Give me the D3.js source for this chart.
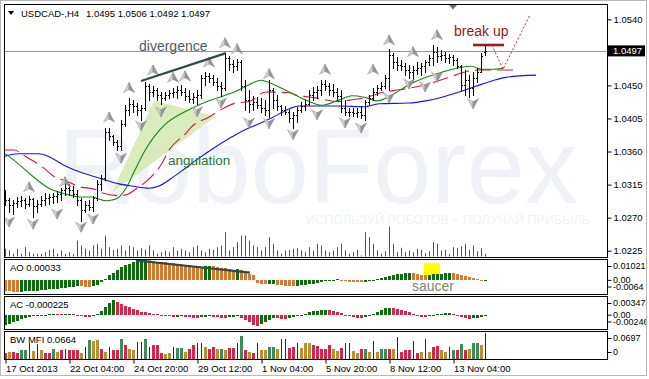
<!DOCTYPE html>
<html><head><meta charset="utf-8">
<script src="https://cdn.jsdelivr.net/npm/d3@7"></script>
<style>
html,body{margin:0;padding:0;background:#fff;overflow:hidden;}
svg{display:block;font-family:"Liberation Sans",Arial,sans-serif;}
</style></head>
<body><svg id="c" width="649" height="379"></svg>
<script>
// ---------------- DATA ----------------
const symbolLabel = "USDCAD-,H4";
const lastQuote = ["1.0495","1.0506","1.0492","1.0497"];
const currentPrice = 1.0497;

const openP = [1.0301,1.0294,1.0287,1.0290,1.0293,1.0294,1.0289,1.0295,1.0286,1.0289,
1.0294,1.0297,1.0298,1.0300,1.0302,1.0308,1.0310,1.0308,1.0302,1.0294,
1.0280,1.0287,1.0285,1.0297,1.0316,1.0324,1.0387,1.0381,1.0373,1.0368,
1.0398,1.0417,1.0425,1.0422,1.0417,1.0419,1.0449,1.0441,1.0444,1.0437,
1.0433,1.0437,1.0440,1.0441,1.0444,1.0441,1.0436,1.0432,1.0434,1.0437,
1.0460,1.0463,1.0460,1.0455,1.0449,1.0447,1.0487,1.0479,1.0476,1.0482,
1.0449,1.0430,1.0425,1.0428,1.0423,1.0419,1.0417,1.0444,1.0430,1.0422,
1.0417,1.0414,1.0406,1.0410,1.0417,1.0422,1.0425,1.0437,1.0441,1.0444,
1.0452,1.0449,1.0444,1.0441,1.0436,1.0419,1.0414,1.0414,1.0413,1.0414,
1.0410,1.0428,1.0433,1.0441,1.0447,1.0449,1.0460,1.0491,1.0482,1.0478,
1.0476,1.0471,1.0468,1.0471,1.0474,1.0476,1.0482,1.0487,1.0495,1.0490,
1.0491,1.0487,1.0489,1.0485,1.0476,1.0451,1.0457,1.0447,1.0460,1.0468,
1.0495];
const highP = [1.0308,1.0297,1.0294,1.0298,1.0300,1.0297,1.0300,1.0297,1.0294,1.0300,
1.0304,1.0302,1.0304,1.0306,1.0310,1.0317,1.0316,1.0313,1.0308,1.0297,
1.0293,1.0294,1.0300,1.0321,1.0328,1.0392,1.0392,1.0383,1.0376,1.0403,
1.0423,1.0433,1.0430,1.0426,1.0423,1.0455,1.0452,1.0449,1.0447,1.0441,
1.0441,1.0444,1.0447,1.0449,1.0451,1.0447,1.0444,1.0440,1.0444,1.0464,
1.0468,1.0467,1.0464,1.0460,1.0455,1.0494,1.0490,1.0485,1.0486,1.0485,
1.0457,1.0444,1.0436,1.0434,1.0433,1.0430,1.0457,1.0447,1.0437,1.0423,
1.0422,1.0417,1.0414,1.0421,1.0428,1.0430,1.0444,1.0448,1.0449,1.0457,
1.0457,1.0453,1.0452,1.0447,1.0444,1.0430,1.0419,1.0419,1.0419,1.0422,
1.0430,1.0437,1.0447,1.0451,1.0455,1.0464,1.0500,1.0494,1.0489,1.0485,
1.0481,1.0478,1.0476,1.0482,1.0481,1.0485,1.0491,1.0505,1.0502,1.0498,
1.0495,1.0493,1.0491,1.0487,1.0478,1.0471,1.0464,1.0468,1.0474,1.0494,
1.0506];
const lowP = [1.0287,1.0278,1.0275,1.0285,1.0286,1.0283,1.0286,1.0271,1.0278,1.0286,
1.0287,1.0289,1.0290,1.0291,1.0294,1.0301,1.0301,1.0298,1.0287,1.0266,
1.0278,1.0280,1.0279,1.0294,1.0308,1.0321,1.0376,1.0369,1.0362,1.0362,
1.0395,1.0410,1.0414,1.0410,1.0403,1.0417,1.0430,1.0436,1.0430,1.0425,
1.0430,1.0433,1.0434,1.0433,1.0437,1.0430,1.0428,1.0426,1.0425,1.0433,
1.0451,1.0455,1.0451,1.0444,1.0436,1.0444,1.0471,1.0468,1.0471,1.0444,
1.0417,1.0414,1.0417,1.0419,1.0414,1.0410,1.0407,1.0419,1.0417,1.0410,
1.0411,1.0400,1.0392,1.0400,1.0414,1.0417,1.0423,1.0430,1.0433,1.0437,
1.0444,1.0437,1.0436,1.0430,1.0414,1.0410,1.0408,1.0408,1.0407,1.0406,
1.0403,1.0425,1.0430,1.0437,1.0444,1.0447,1.0444,1.0474,1.0471,1.0471,
1.0464,1.0460,1.0457,1.0466,1.0464,1.0468,1.0478,1.0478,1.0482,1.0485,
1.0482,1.0481,1.0478,1.0474,1.0444,1.0437,1.0434,1.0437,1.0455,1.0468,
1.0492];
const closeP = [1.0294,1.0287,1.0290,1.0293,1.0294,1.0289,1.0295,1.0286,1.0289,1.0294,
1.0297,1.0298,1.0300,1.0302,1.0308,1.0310,1.0308,1.0302,1.0294,1.0280,
1.0287,1.0285,1.0297,1.0316,1.0324,1.0387,1.0381,1.0373,1.0368,1.0398,
1.0417,1.0425,1.0422,1.0417,1.0419,1.0449,1.0441,1.0444,1.0437,1.0433,
1.0437,1.0440,1.0441,1.0444,1.0441,1.0436,1.0432,1.0434,1.0437,1.0460,
1.0463,1.0460,1.0455,1.0449,1.0447,1.0487,1.0479,1.0476,1.0482,1.0449,
1.0430,1.0425,1.0428,1.0423,1.0419,1.0417,1.0444,1.0430,1.0422,1.0417,
1.0414,1.0406,1.0410,1.0417,1.0422,1.0425,1.0437,1.0441,1.0444,1.0452,
1.0449,1.0444,1.0441,1.0436,1.0419,1.0414,1.0414,1.0413,1.0414,1.0410,
1.0428,1.0433,1.0441,1.0447,1.0449,1.0460,1.0491,1.0482,1.0478,1.0476,
1.0471,1.0468,1.0471,1.0474,1.0476,1.0482,1.0487,1.0495,1.0490,1.0491,
1.0487,1.0489,1.0485,1.0476,1.0451,1.0457,1.0447,1.0460,1.0468,1.0490,
1.0497];
const tickVolume = [770,600,270,770,270,930,430,270,270,270,
430,670,770,270,600,270,430,270,1600,1100,
770,600,1100,1270,770,2100,930,670,770,1100,
600,1100,930,600,830,670,1100,600,270,430,
600,430,930,600,770,600,430,930,1100,600,
430,770,670,930,1100,2430,600,930,1430,2100,
2100,1600,1100,930,600,930,1930,1270,600,270,
600,670,770,830,600,430,930,600,1270,1100,
600,430,600,930,1270,600,270,430,670,100,
2430,1930,1270,600,270,530,3000,1270,430,870,
430,600,430,770,670,330,530,1430,1270,600,
670,270,930,870,1000,1270,670,1100,530,830,
270];
const aoValues = [-0.00504,-0.00528,-0.00547,-0.00557,-0.00552,-0.00538,-0.00523,-0.00509,-0.00494,-0.00480,
-0.00461,-0.00442,-0.00422,-0.00398,-0.00374,-0.00350,-0.00326,-0.00302,-0.00288,-0.00298,
-0.00312,-0.00317,-0.00278,-0.00216,-0.00096,0.00072,0.00240,0.00384,0.00528,0.00648,
0.00744,0.00816,0.00888,0.00936,0.00984,0.01008,0.00984,0.00950,0.00922,0.00902,
0.00878,0.00854,0.00830,0.00811,0.00787,0.00768,0.00744,0.00720,0.00696,0.00672,
0.00686,0.00701,0.00682,0.00653,0.00624,0.00595,0.00566,0.00528,0.00542,0.00499,
0.00432,0.00336,0.00240,-0.00120,-0.00168,-0.00192,-0.00182,-0.00173,-0.00202,-0.00230,
-0.00250,-0.00264,-0.00278,-0.00264,-0.00240,-0.00216,-0.00192,-0.00158,-0.00125,-0.00086,
-0.00048,0.00024,0.00038,0.00048,0.00029,-0.00024,-0.00058,-0.00077,-0.00086,-0.00096,
-0.00072,-0.00024,0.00024,0.00072,0.00120,0.00168,0.00216,0.00264,0.00298,0.00326,
0.00346,0.00365,0.00346,0.00317,0.00288,0.00269,0.00278,0.00298,0.00317,0.00336,
0.00350,0.00365,0.00346,0.00312,0.00264,0.00216,0.00168,0.00120,0.00072,0.00029,
0.00033];
const acValues = [-0.00183,-0.00155,-0.00128,-0.00100,-0.00073,-0.00051,-0.00033,-0.00018,-0.00009,0.00004,
0.00009,0.00016,0.00022,0.00018,0.00015,0.00018,0.00022,0.00015,0.00005,-0.00009,
-0.00027,-0.00037,-0.00018,0.00018,0.00073,0.00146,0.00228,0.00283,0.00247,0.00210,
0.00174,0.00146,0.00119,0.00091,0.00064,0.00051,0.00037,0.00027,0.00015,0.00005,
-0.00009,-0.00022,-0.00033,-0.00027,-0.00018,-0.00027,-0.00037,-0.00046,-0.00051,-0.00037,
-0.00027,-0.00018,-0.00027,-0.00037,-0.00046,-0.00051,-0.00040,-0.00033,-0.00022,-0.00046,
-0.00082,-0.00128,-0.00174,-0.00201,-0.00164,-0.00119,-0.00082,-0.00055,-0.00058,-0.00062,
-0.00064,-0.00055,-0.00037,-0.00018,0.00005,0.00027,0.00051,0.00073,0.00088,0.00095,
0.00100,0.00091,0.00077,0.00058,0.00037,0.00009,-0.00018,-0.00037,-0.00051,-0.00058,
-0.00037,-0.00009,0.00027,0.00064,0.00100,0.00128,0.00137,0.00128,0.00110,0.00091,
0.00073,0.00051,0.00022,-0.00009,-0.00027,-0.00037,-0.00018,0.00005,0.00018,0.00027,
0.00033,0.00037,0.00018,-0.00009,-0.00033,-0.00055,-0.00073,-0.00058,-0.00046,-0.00033,
-0.000225];
const bwValues = [0.0149,0.0174,0.0167,0.0149,0.0224,0.0237,0.0398,0.0199,0.0391,0.0224,
0.0149,0.0142,0.0242,0.0182,0.0224,0.0242,0.0224,0.0224,0.0224,0.0142,
0.0306,0.0473,0.0456,0.0473,0.0266,0.0182,0.0306,0.0224,0.0224,0.0515,
0.0349,0.0242,0.0224,0.0431,0.0423,0.0515,0.0306,0.0366,0.0366,0.0142,
0.0117,0.0142,0.0306,0.0281,0.0281,0.0182,0.0266,0.0349,0.0416,0.0416,
0.0306,0.0266,0.0306,0.0266,0.0266,0.0224,0.0281,0.0281,0.0416,0.0573,
0.0224,0.0182,0.0157,0.0416,0.0224,0.0224,0.0306,0.0306,0.0266,0.0515,
0.0515,0.0281,0.0306,0.0406,0.0281,0.0406,0.0406,0.0349,0.0331,0.0242,
0.0242,0.0349,0.0266,0.0199,0.0281,0.0416,0.0416,0.0199,0.0142,0.0266,
0.0266,0.0182,0.0448,0.0182,0.0266,0.0266,0.0242,0.0266,0.0555,0.0182,
0.0224,0.0224,0.0448,0.0157,0.0182,0.0515,0.0182,0.0306,0.0331,0.0224,
0.0182,0.0306,0.0224,0.0224,0.0391,0.0224,0.0266,0.0416,0.0416,0.0349,
0.0664];
// g = green, b = brown (fade), f = blue (fake), s = pink (squat)
const bwStates = ("sbssggfbfb"+"ssgbsfsssb"+"fgbbsbfssg"+"sbbffgfsss"+"bbfggbssff"+
  "bssbgbssfg"+"sbsfbbggbf"+"fssfbbbsss"+"ssbbsffbbs"+"gbfbggsbfs"+"ssfsbfbssb"+"bfgsgsbggb"+"f").split("");

// Alligator lines: [bar index, price]
const jawLine = [[-0.5,1.0353],[3.5,1.0357],[8.5,1.0357],[11,1.0353],[15.25,1.0340],[19.25,1.0331],[23.5,1.0324],[28.5,1.0316],[31.75,1.0313],[36,1.0310],[38.5,1.0313],[41.75,1.0324],[45.25,1.0338],[48.5,1.0351],[51.75,1.0363],[56.75,1.0380],[59.75,1.0389],[62.75,1.0396],[66.75,1.0406],[71,1.0418],[73.5,1.0422],[79.25,1.0422],[83.5,1.0422],[89.75,1.0421],[93.5,1.0425],[101,1.0426],[105.25,1.0429],[109.25,1.0434],[113.5,1.0441],[117.75,1.0449],[122.25,1.0457],[125.25,1.0461],[132.75,1.0464]];
const teethLine = [[-0.5,1.0362],[2.25,1.0362],[5.25,1.0353],[10.25,1.0335],[11.75,1.0328],[16.5,1.0317],[18,1.0313],[22.75,1.0308],[23.5,1.0305],[28.5,1.0300],[30.25,1.0301],[33.5,1.0312],[35.25,1.0319],[39.25,1.0344],[41,1.0362],[45.25,1.0385],[46.5,1.0393],[51,1.0407],[52.75,1.0413],[57.75,1.0426],[61,1.0428],[65.25,1.0441],[71,1.0440],[72.75,1.0437],[77.75,1.0433],[83.5,1.0428],[86,1.0430],[89.75,1.0433],[94.75,1.0441],[98.5,1.0444],[105.25,1.0451],[110.5,1.0460],[114.75,1.0468],[118.5,1.0471],[123.5,1.0471],[127.75,1.0471]];
const lipsLine = [[-0.5,1.0359],[2.75,1.0346],[6.75,1.0327],[11,1.0310],[15.25,1.0302],[19.25,1.0298],[21.75,1.0298],[25.25,1.0293],[26.75,1.0294],[28.5,1.0298],[30.25,1.0310],[32.25,1.0332],[34.75,1.0359],[37.25,1.0380],[40.25,1.0398],[43.5,1.0410],[46.75,1.0419],[51,1.0429],[54.75,1.0436],[57.75,1.0442],[61,1.0451],[64,1.0457],[67.25,1.0451],[71,1.0441],[75.25,1.0430],[79.25,1.0423],[83.5,1.0430],[86.75,1.0436],[89.75,1.0434],[93,1.0429],[96.75,1.0437],[101,1.0451],[105.25,1.0461],[109.25,1.0468],[113.5,1.0474],[116.5,1.0476],[119.25,1.0472],[122.25,1.0472],[124.75,1.0474]];

const fractalsUp = [[6,1.0312],[15,1.0319],[26,1.0407],[31,1.0447],[37,1.0471],[42,1.0461],[45,1.0463],[51,1.0482],[55,1.0508],[58,1.0500],[66,1.0466],[80,1.0472],[92,1.0472],[96,1.0512],[102,1.0496],[108,1.0519]];
const fractalsDown = [[1,1.0264],[7,1.0261],[13,1.0275],[19,1.0257],[22,1.0268],[29,1.0351],[34,1.0395],[39,1.0414],[48,1.0414],[54,1.0426],[61,1.0399],[66,1.0398],[72,1.0383],[78,1.0410],[85,1.0399],[89,1.0392],[96,1.0433],[101,1.0452],[105,1.0448],[108,1.0461],[117,1.0425]];

const priceTicks = [1.0540,1.0450,1.0405,1.0360,1.0315,1.0270,1.0225];
const dateTicks = [[0,"17 Oct 2013"],[16,"22 Oct 04:00"],[32,"24 Oct 20:00"],[48,"29 Oct 12:00"],[64,"1 Nov 04:00"],[80,"5 Nov 20:00"],[96,"8 Nov 12:00"],[112,"13 Nov 04:00"]];
const aoRange = [-0.0064, 0.01021], acRange = [-0.00246, 0.003478], bwRange = [0, 0.0697];
const aoTickLabels = ["0.01021","0.00","-0.0064"];
const acTickLabels = ["0.003478","0.00","-0.00246"];
const bwTickLabels = ["0.0697","0"];

// annotations (bar index / value anchors)
const divergencePrice = [[34,1.0456],[55.25,1.0494]];
const divergenceAO = [[32.75,0.00972],[61.25,0.00378]];
const angulationTri = [[26.75,1.0304],[37.25,1.0429],[52.75,1.0408]];
const breakUpLine = [[117,1.0505],[124.75,1.0505]];
const forecastPath = [[121.75,1.0505],[124.5,1.0472],[131.25,1.0546]];
const saucerBox = [[104.75,0.00843],[108.75,0.00172]];

// ---------------- DRAW ----------------
const svg = d3.select("#c");
const FONT = "Liberation Sans, Arial, sans-serif";
const LX = 4, RX = 607;
const P = {main:[4,257], ao:[259,294], ac:[296,329], bw:[331,359]};

const x = d3.scaleLinear().domain([0,120]).range([5,485]);
const yP = d3.scaleLinear().domain([1.0225,1.0540]).range([250.7,19.3]);
const yV = d3.scaleLinear().domain([0,3000]).range([256.5,226.5]);
const yAO = d3.scaleLinear().domain(aoRange).range([293.5,259.5]);
const yAC = d3.scaleLinear().domain(acRange).range([328.5,296.5]);
const yBW = d3.scaleLinear().domain(bwRange).range([359,331.5]);

svg.append("rect").attr("x",0).attr("y",0).attr("width",649).attr("height",379).attr("fill","#fff");

const defs = svg.append("defs");
Object.entries(P).forEach(([k,[t,b]])=>{
  defs.append("clipPath").attr("id","clip-"+k).append("rect")
    .attr("x",LX+1).attr("y",t+1).attr("width",RX-LX-1).attr("height",b-t-1);
});
defs.append("clipPath").attr("id","clip-right").append("rect")
  .attr("x",RX).attr("y",0).attr("width",647-RX).attr("height",375);

// ---- main panel ----
const gm = svg.append("g").attr("clip-path","url(#clip-main)");
gm.append("text").attr("x",58).attr("y",203).attr("font-size",105).attr("font-family",FONT)
  .attr("fill","#eff2f6").text("RoboForex");
gm.append("text").attr("x",306).attr("y",224).attr("font-size",13).attr("font-family",FONT)
  .attr("fill","#f0f3f7").attr("textLength",284).attr("lengthAdjust","spacingAndGlyphs")
  .text("ИСПОЛЬЗУЙ РОБОТОВ – ПОЛУЧАЙ ПРИБЫЛЬ");

gm.append("path").attr("d", d3.line().x(d=>x(d[0])).y(d=>yP(d[1]))(angulationTri)+"Z")
  .attr("fill","#d3e9b0").attr("opacity",0.85);

gm.append("g").selectAll("line").data(tickVolume).join("line")
  .attr("x1",(d,i)=>x(i)+0.5).attr("x2",(d,i)=>x(i)+0.5)
  .attr("y1",yV(0)).attr("y2",d=>yV(d)).attr("stroke","#1f7a1f");

gm.append("line").attr("x1",LX).attr("x2",RX).attr("y1",Math.round(yP(currentPrice))+0.5).attr("y2",Math.round(yP(currentPrice))+0.5)
  .attr("stroke","#8797a8");

const lineGen = d3.line().x(d=>x(d[0])).y(d=>yP(d[1])).curve(d3.curveMonotoneX);
gm.append("path").attr("d",lineGen(jawLine)).attr("fill","none").attr("stroke","#1515e0").attr("stroke-width",1.1);
gm.append("path").attr("d",lineGen(teethLine)).attr("fill","none").attr("stroke","#d01840").attr("stroke-width",1.1).attr("stroke-dasharray","16,6");
gm.append("path").attr("d",lineGen(lipsLine)).attr("fill","none").attr("stroke","#138a13").attr("stroke-width",1.1);

const bars = gm.append("g").attr("stroke","#000").attr("shape-rendering","crispEdges");
openP.forEach((o,i)=>{
  const cx = x(i)+0.5;
  bars.append("line").attr("x1",cx).attr("x2",cx).attr("y1",yP(highP[i])).attr("y2",yP(lowP[i])+1);
  const yo = Math.round(yP(o))+0.5, yc = Math.round(yP(closeP[i]))+0.5;
  bars.append("line").attr("x1",cx-1.5).attr("x2",cx).attr("y1",yo).attr("y2",yo);
  bars.append("line").attr("x1",cx).attr("x2",cx+1.5).attr("y1",yc).attr("y2",yc);
});

function arrow(g, cx, cy, up){
  const s = up?1:-1;
  g.append("path").attr("d",`M${cx},${cy-5*s} L${cx-5.5},${cy+5*s} L${cx},${cy+2*s} Z`)
    .attr("fill","#d2d2d2").attr("stroke","#a0a0a0").attr("stroke-width",0.6);
  g.append("path").attr("d",`M${cx},${cy-5*s} L${cx+5.5},${cy+5*s} L${cx},${cy+2*s} Z`)
    .attr("fill","#959595").attr("stroke","#8e8e8e").attr("stroke-width",0.6);
}
const gf = gm.append("g");
fractalsUp.forEach(d=>arrow(gf, x(d[0]), yP(d[1]), true));
fractalsDown.forEach(d=>arrow(gf, x(d[0]), yP(d[1]), false));

gm.append("path").attr("d",d3.line().x(d=>x(d[0])).y(d=>yP(d[1]))(divergencePrice))
  .attr("stroke","#2e4a4a").attr("stroke-width",2.2).attr("fill","none");
gm.append("path").attr("d",d3.line().x(d=>x(d[0])).y(d=>yP(d[1]))(breakUpLine))
  .attr("stroke","#9b1c1c").attr("stroke-width",2.6).attr("fill","none");
gm.append("path").attr("d",d3.line().x(d=>x(d[0])).y(d=>yP(d[1]))(forecastPath))
  .attr("stroke","#b03030").attr("stroke-width",1).attr("stroke-dasharray","2,2").attr("fill","none");

gm.append("text").attr("x",x(33.5)).attr("y",yP(1.0503)).attr("dy","0.35em").attr("font-size",14).attr("font-family",FONT)
  .attr("fill","#4f5c68").text("divergence");
gm.append("text").attr("x",x(40.75)).attr("y",yP(1.0348)).attr("dy","0.35em").attr("font-size",13.5).attr("font-family",FONT)
  .attr("fill","#267a32").text("angulation");
gm.append("text").attr("x",x(112.25)).attr("y",yP(1.0524)).attr("dy","0.35em").attr("font-size",14).attr("font-family",FONT)
  .attr("fill","#8b1c1c").text("break up");

// chart shift marker
svg.append("path").attr("d",`M${x(112)-4},5 L${x(112)+4},5 L${x(112)},9.5 Z`).attr("fill","#6e6e6e");

// title
svg.append("path").attr("d","M8,11 L14,11 L11,15 Z").attr("fill","#000");
svg.append("text").attr("x",21).attr("y",16.5).attr("font-size",9.5).attr("font-family",FONT).text(symbolLabel);
svg.append("text").attr("x",86).attr("y",16.5).attr("font-size",9.5).attr("font-family",FONT).text(lastQuote.join(" "));

// ---- AO ----
const gao = svg.append("g").attr("clip-path","url(#clip-ao)");
gao.append("rect").attr("x",x(saucerBox[0][0])).attr("y",yAO(saucerBox[0][1]))
  .attr("width",x(saucerBox[1][0])-x(saucerBox[0][0])).attr("height",yAO(saucerBox[1][1])-yAO(saucerBox[0][1]))
  .attr("fill","#ffff00");
gao.append("g").attr("shape-rendering","crispEdges").selectAll("rect").data(aoValues).join("rect")
  .attr("x",(d,i)=>x(i)-1).attr("width",3)
  .attr("y",d=>Math.min(yAO(d),yAO(0))).attr("height",d=>Math.max(1,Math.abs(yAO(d)-yAO(0))))
  .attr("fill",(d,i)=> (i===0 ? false : d>aoValues[i-1]) ? "#0e6b0e" : "#d57a2e");
gao.append("path").attr("d",d3.line().x(d=>x(d[0])).y(d=>yAO(d[1]))(divergenceAO))
  .attr("stroke","#2e4a4a").attr("stroke-width",2.2).attr("fill","none");
gao.append("text").attr("x",x(101.75)).attr("y",yAO(-0.00292)).attr("dy","0.35em").attr("font-size",14).attr("font-family",FONT)
  .attr("fill","#7f8272").text("saucer");
svg.append("text").attr("x",10).attr("y",268).attr("dy","0.35em").attr("font-size",9.5).attr("font-family",FONT).text("AO "+aoValues[aoValues.length-1].toFixed(5));

// ---- AC ----
const gac = svg.append("g").attr("clip-path","url(#clip-ac)");
gac.append("g").attr("shape-rendering","crispEdges").selectAll("rect").data(acValues).join("rect")
  .attr("x",(d,i)=>x(i)-1).attr("width",3)
  .attr("y",d=>Math.min(yAC(d),yAC(0))).attr("height",d=>Math.max(1,Math.abs(yAC(d)-yAC(0))))
  .attr("fill",(d,i)=> (i===0 ? true : d>acValues[i-1]) ? "#0e6b0e" : "#d8234a");
svg.append("text").attr("x",10).attr("y",305).attr("dy","0.35em").attr("font-size",9.5).attr("font-family",FONT).text("AC "+acValues[acValues.length-1].toFixed(6));

// ---- BW MFI ----
const bwColor = {g:"#3c8c5c", b:"#b8902c", f:"#1c1c96", s:"#d8234a"};
const gbw = svg.append("g").attr("clip-path","url(#clip-bw)").attr("shape-rendering","crispEdges");
bwValues.forEach((v,i)=>{
  const st = bwStates[i];
  const w = st==="f" ? 1 : 3;
  gbw.append("rect").attr("x", st==="f" ? x(i) : x(i)-1).attr("width",w)
    .attr("y",yBW(v)).attr("height",yBW(0)-yBW(v)).attr("fill",bwColor[st]);
});
svg.append("text").attr("x",10).attr("y",340).attr("dy","0.35em").attr("font-size",9.5).attr("font-family",FONT).text("BW MFI "+bwValues[bwValues.length-1].toFixed(4));

// ---- panel frames ----
Object.values(P).forEach(([t,b])=>{
  svg.append("rect").attr("x",LX+0.5).attr("y",t+0.5).attr("width",RX-LX).attr("height",b-t)
    .attr("fill","none").attr("stroke","#000").attr("shape-rendering","crispEdges");
});

// ---- axes ----
function styleAxis(g, fs){
  g.select(".domain").remove();
  g.selectAll("line").attr("stroke","#000");
  g.selectAll("text").attr("font-size",fs||9.5).attr("font-family",FONT).attr("fill","#000");
}
const gRight = svg.append("g").attr("clip-path","url(#clip-right)");
const priceAxis = d3.axisRight(yP).tickValues(priceTicks).tickSize(4).tickPadding(2).tickFormat(d3.format(".4f"));
gRight.append("g").attr("transform",`translate(${RX+0.5},0)`).call(priceAxis).call(styleAxis);

// current price box
const cy = yP(currentPrice);
gRight.append("rect").attr("x",RX+1).attr("y",cy-5.5).attr("width",37).attr("height",11).attr("fill","#000");
gRight.append("text").attr("x",RX+6).attr("y",cy).attr("dy","0.35em").attr("font-size",9.5).attr("font-family",FONT)
  .attr("fill","#fff").text(currentPrice.toFixed(4));

function subAxis(scale, range, labels){
  const vals = labels.length===3 ? [range[1],0,range[0]] : [range[1],range[0]];
  const ax = d3.axisRight(scale).tickValues(vals).tickSize(4).tickPadding(1.5).tickFormat((d,i)=>labels[i]);
  const g = gRight.append("g").attr("transform",`translate(${RX+0.5},0)`).call(ax).call(g=>styleAxis(g,9));
  g.selectAll(".tick").attr("transform",(d,i)=>{
    let yy = scale(d);
    if(i===0) yy += 7;
    if(i===vals.length-1) yy -= 6.5;
    return `translate(0,${yy})`;
  });
}
subAxis(yAO, aoRange, aoTickLabels);
subAxis(yAC, acRange, acTickLabels);
subAxis(yBW, bwRange, bwTickLabels);

const dateAxis = d3.axisBottom(x).tickValues(dateTicks.map(d=>d[0])).tickSize(4).tickPadding(2)
  .tickFormat(d=>dateTicks.find(t=>t[0]===d)[1]);
const gd = svg.append("g").attr("transform",`translate(0.5,${P.bw[1]+0.5})`).call(dateAxis).call(g=>styleAxis(g));
gd.selectAll("text").attr("text-anchor","start").attr("x",0);

// outer frame
svg.append("rect").attr("x",0.5).attr("y",0.5).attr("width",646).attr("height",375)
  .attr("fill","none").attr("stroke","#b9b9b9");
</script>
</body></html>
